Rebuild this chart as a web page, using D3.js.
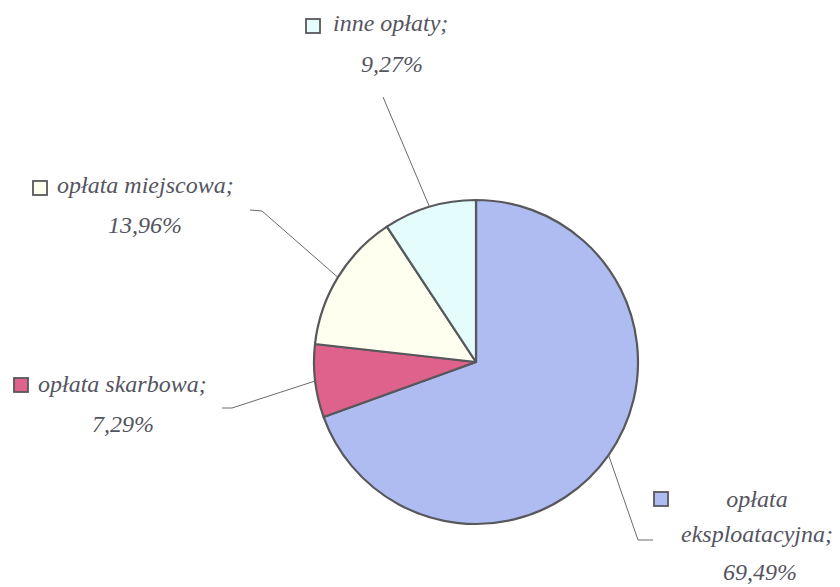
<!DOCTYPE html>
<html>
<head>
<meta charset="utf-8">
<script src="https://cdn.jsdelivr.net/npm/d3@7"></script>
<style>
  body { margin: 0; background: #fff; }
  svg text { font-family: "Liberation Serif", "Times New Roman", serif; font-style: italic; fill: #55555f; }
</style>
</head>
<body>
<div id="chart"></div>
<script>
// data (clockwise from 12 o'clock)
const categories = ["opłata eksploatacyjna", "opłata skarbowa", "opłata miejscowa", "inne opłaty"];
const shares = [69.49, 7.29, 13.96, 9.27];
const shareLabels = ["69,49%", "7,29%", "13,96%", "9,27%"];
const colors = ["#aebcf1", "#de628b", "#fffff0", "#e4fcfc"];

// label placement, one entry per category
const labelLayout = [
  { square: [654, 492], lines: [["opłata", 757, 507, "middle"], ["eksploatacyjna;", 757, 542, "middle"], ["%", 760, 580, "middle"]],
    leader: "after", elbow: [[638, 540], [653, 540]] },
  { square: [14, 378], lines: [["name", 38, 392, "start"], ["%", 123, 432, "middle"]],
    leader: "before", elbow: [[222, 408], [232, 408]] },
  { square: [33, 181], lines: [["name", 57, 193, "start"], ["%", 145, 233, "middle"]],
    leader: "before", elbow: [[250, 210], [262, 211]] },
  { square: [306, 19], lines: [["name", 333, 31, "start"], ["%", 392, 72, "middle"]],
    leader: "before", elbow: [[383, 97]] }
];

const width = 840, height = 587;
const cx = 476, cy = 362, radius = 162;

const svg = d3.select("#chart").append("svg")
  .attr("width", width)
  .attr("height", height);

const data = categories.map((c, i) => ({ name: c, value: shares[i], label: shareLabels[i], color: colors[i], layout: labelLayout[i] }));

const pie = d3.pie().sort(null).value(d => d.value);
const arcs = pie(data);
const arc = d3.arc().innerRadius(0).outerRadius(radius);
const edgeArc = d3.arc().innerRadius(radius).outerRadius(radius);

const g = svg.append("g").attr("transform", `translate(${cx},${cy})`);

g.selectAll("path.slice")
  .data(arcs)
  .enter()
  .append("path")
  .attr("class", "slice")
  .attr("d", arc)
  .style("fill", d => d.data.color)
  .style("stroke", "#58585c")
  .style("stroke-width", 2.2)
  .style("stroke-linejoin", "round");

// leader lines
const line = d3.line();
arcs.forEach(d => {
  const e = edgeArc.centroid(d);
  const edge = [e[0] + cx, e[1] + cy];
  const pts = d.data.layout.leader === "after" ? [edge, ...d.data.layout.elbow] : [...d.data.layout.elbow, edge];
  svg.append("path")
    .attr("d", line(pts))
    .style("fill", "none")
    .style("stroke", "#6a6a6a")
    .style("stroke-width", 1);
});

// labels
data.forEach(d => {
  const lay = d.layout;
  svg.append("rect")
    .attr("x", lay.square[0])
    .attr("y", lay.square[1])
    .attr("width", 14)
    .attr("height", 14)
    .style("fill", d.color)
    .style("stroke", "#58585c")
    .style("stroke-width", 1.8);
  lay.lines.forEach(l => {
    let t = l[0];
    if (t === "name") t = d.name + ";";
    if (t === "%") t = d.label;
    svg.append("text")
      .attr("x", l[1])
      .attr("y", l[2])
      .attr("text-anchor", l[3])
      .style("font-size", "24px")
      .text(t);
  });
});
</script>
</body>
</html>
